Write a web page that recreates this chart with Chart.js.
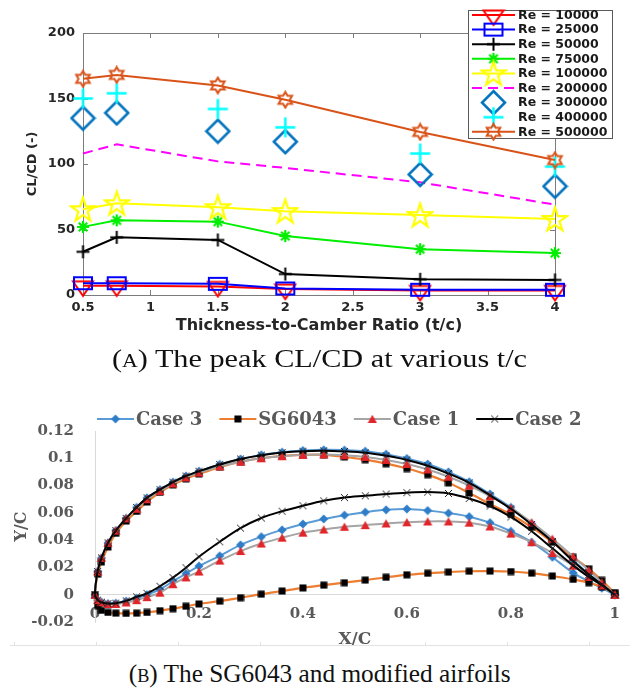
<!DOCTYPE html>
<html>
<head>
<meta charset="utf-8">
<script src="https://cdn.jsdelivr.net/npm/chart.js@4.4.1/dist/chart.umd.min.js"></script>
<style>
  html, body { margin: 0; padding: 0; background: #fff; width: 630px; height: 690px; overflow: hidden; }
  #page { position: relative; width: 630px; height: 690px; }
  #ratioChart { position: absolute; left: 0; top: 0; }
  #foilChart { position: absolute; left: 0; top: 395px; }
  .cap { position: absolute; left: 5px; width: 630px; text-align: center; white-space: nowrap;
         font-family: "Liberation Serif", "Times New Roman", serif; font-size: 25px; line-height: 30px; color: #111; }
  .cap .in { display: inline-block; transform-origin: center center; }
  .sc { font-variant: small-caps; }
</style>
</head>
<body>
<div id="page">
  <canvas id="ratioChart" width="630" height="345"></canvas>
  <div class="cap" style="top:344px"><span class="in" id="capA"><span class="sc">(a)</span> The peak CL/CD at various t/c</span></div>
  <canvas id="foilChart" width="630" height="260"></canvas>
  <div class="cap" style="top:659px"><span class="in" id="capB"><span class="sc">(b)</span> The SG6043 and modified airfoils</span></div>
</div>
<script>
// ---------- Peak CL/CD versus thickness-to-camber ratio ----------
const tcRatio   = [0.5, 0.75, 1.5, 2, 3, 4];
const re10000   = [7, 7, 6.5, 4.5, 3.5, 3.5];
const re25000   = [9, 9, 8.5, 5, 4, 4];
const re50000   = [33, 44, 42, 16, 12, 11.5];
const re75000   = [52, 57, 56, 45, 35, 32];
const re100000  = [65.5, 70, 67, 64, 61, 58];
const re200000  = [108, 115, 102, 97, 86, 69];
const re300000  = [135, 139, 125, 117, 92, 83];
const re400000  = [150, 154, 142, 128, 108, 98];
const re500000  = [165, 168, 160, 149, 124.5, 103];
const reNames   = ['Re = 10000', 'Re = 25000', 'Re = 50000', 'Re = 75000', 'Re = 100000',
                   'Re = 200000', 'Re = 300000', 'Re = 400000', 'Re = 500000'];
const tcTicks      = [0.5, 1, 1.5, 2, 2.5, 3, 3.5, 4];
const tcTickText   = ['0.5', '1', '1.5', '2', '2.5', '3', '3.5', '4'];
const ratioTicks    = [0, 50, 100, 150, 200];
const ratioTickText = ['0', '50', '100', '150', '200'];

// ---------- Airfoil sections (y/c at common chord stations) ----------
const chordX = [0, 0.005, 0.0125, 0.025, 0.04, 0.06, 0.08, 0.1, 0.125, 0.15, 0.175, 0.2, 0.24, 0.28,
                0.32, 0.36, 0.4, 0.44, 0.48, 0.52, 0.56, 0.6, 0.64, 0.68, 0.72, 0.76, 0.8, 0.84, 0.88,
                0.92, 0.95, 0.975, 1];
const sgUpper = [0, 0.015, 0.024, 0.035, 0.045, 0.054, 0.061, 0.068, 0.075, 0.0805, 0.085, 0.0885, 0.0935,
                 0.0975, 0.1, 0.1018, 0.1025, 0.1025, 0.101, 0.099, 0.096, 0.0925, 0.088, 0.082, 0.0745,
                 0.0665, 0.0588, 0.0495, 0.0385, 0.0273, 0.019, 0.0105, 0.001];
const sgLower = [0, -0.008, -0.0115, -0.013, -0.0135, -0.0137, -0.0135, -0.013, -0.0117, -0.0102, -0.0085,
                 -0.0068, -0.0047, -0.0022, 0.0004, 0.0027, 0.005, 0.007, 0.0088, 0.0107, 0.0128, 0.0146,
                 0.0157, 0.0166, 0.0172, 0.0173, 0.017, 0.0158, 0.0137, 0.0112, 0.0088, 0.0058, 0.001];
const case1Upper = [0, 0.017, 0.027, 0.038, 0.047, 0.056, 0.063, 0.07, 0.076, 0.0815, 0.086, 0.0895, 0.094,
                    0.0975, 0.1, 0.1015, 0.1025, 0.1028, 0.1022, 0.101, 0.0988, 0.0958, 0.0918, 0.0865, 0.08,
                    0.0722, 0.0635, 0.053, 0.041, 0.028, 0.018, 0.009, 0];
const case1Lower = [0, -0.004, -0.0055, -0.0068, -0.0068, -0.0057, -0.004, -0.0018, 0.0015, 0.0077, 0.0127,
                    0.017, 0.025, 0.032, 0.0375, 0.0418, 0.0455, 0.0478, 0.0498, 0.051, 0.0522, 0.0531,
                    0.0537, 0.0537, 0.0528, 0.05, 0.0448, 0.0385, 0.0305, 0.0213, 0.013, 0.0068, 0];
const case2Upper = [0, 0.017, 0.027, 0.038, 0.047, 0.056, 0.064, 0.071, 0.077, 0.0825, 0.087, 0.0905, 0.0955,
                    0.0995, 0.1023, 0.1042, 0.1052, 0.1055, 0.105, 0.104, 0.1018, 0.0988, 0.0945, 0.0888,
                    0.082, 0.0728, 0.063, 0.0515, 0.039, 0.0245, 0.0148, 0.0075, 0];
const case2Lower = [0, -0.004, -0.0055, -0.0065, -0.0062, -0.0045, -0.0015, 0.001, 0.0062, 0.0125, 0.0198,
                    0.0278, 0.0388, 0.0488, 0.0562, 0.0612, 0.0652, 0.0688, 0.0712, 0.0725, 0.0738, 0.0748,
                    0.0752, 0.0742, 0.0705, 0.065, 0.057, 0.0465, 0.034, 0.0215, 0.013, 0.007, 0];
const case3Upper = [0, 0.017, 0.027, 0.038, 0.047, 0.056, 0.064, 0.071, 0.077, 0.0825, 0.087, 0.0905, 0.0955,
                    0.0995, 0.1025, 0.1045, 0.1057, 0.1062, 0.106, 0.1052, 0.103, 0.0998, 0.0958, 0.09,
                    0.0828, 0.0738, 0.064, 0.052, 0.0395, 0.0252, 0.0152, 0.0078, 0];
const case3Lower = [0, -0.004, -0.0055, -0.0065, -0.0062, -0.0047, -0.0025, 0, 0.004, 0.0098, 0.0155, 0.021,
                    0.0285, 0.0365, 0.0425, 0.0475, 0.0518, 0.0555, 0.0583, 0.0605, 0.0622, 0.0628, 0.0617,
                    0.0598, 0.0572, 0.0528, 0.0465, 0.0385, 0.0275, 0.016, 0.0098, 0.0048, 0];
const foilNames  = ['Case 3', 'SG6043', 'Case 1', 'Case 2'];
const xcTicks    = [0, 0.2, 0.4, 0.6, 0.8, 1];
const xcTickText = ['0', '0.2', '0.4', '0.6', '0.8', '1'];
const ycTicks    = [-0.02, 0, 0.02, 0.04, 0.06, 0.08, 0.1, 0.12];
const ycTickText = ['-0.02', '0', '0.02', '0.04', '0.06', '0.08', '0.1', '0.12'];

// ---------- marker glyphs ----------
function glyph(w, h, paint) {
  const c = document.createElement('canvas');
  c.width = w; c.height = h;
  const g = c.getContext('2d');
  g.lineJoin = 'miter';
  paint(g, w, h);
  return c;
}
function pathOf(g, pts) {
  g.beginPath();
  pts.forEach(([px, py], i) => (i ? g.lineTo(px, py) : g.moveTo(px, py)));
  g.closePath();
}
function outline(pts, color, lw) {
  return g => { pathOf(g, pts); g.strokeStyle = color; g.lineWidth = lw; g.stroke(); };
}
function filled(pts, color) {
  return g => { pathOf(g, pts); g.fillStyle = color; g.fill(); };
}
function strokes(segs, color, lw) {
  return g => {
    g.strokeStyle = color; g.lineWidth = lw; g.beginPath();
    segs.forEach(([a, b, c, d]) => { g.moveTo(a, b); g.lineTo(c, d); });
    g.stroke();
  };
}
function starPts(cx, cy, n, R, r) {
  const pts = [];
  for (let k = 0; k < 2 * n; k++) {
    const a = k * Math.PI / n, rad = k % 2 ? r : R;
    pts.push([cx + rad * Math.sin(a), cy - rad * Math.cos(a)]);
  }
  return pts;
}

const mTriDown  = glyph(24, 24, outline([[2, 7.5], [22, 7.5], [12, 22]], '#ff0000', 2));
const mSquare   = glyph(22, 16, g => { g.strokeStyle = '#0000ff'; g.lineWidth = 2; g.strokeRect(2, 2, 18, 12); });
const mPlusK    = glyph(15, 15, strokes([[7.5, 1, 7.5, 14], [1, 7.5, 14, 7.5]], '#000000', 2));
const mAster    = glyph(14, 14, strokes([[7, 1, 7, 13], [1, 7, 13, 7], [2.8, 2.8, 11.2, 11.2], [11.2, 2.8, 2.8, 11.2]], '#00ee00', 2.2));
const mPenta    = glyph(28, 28, outline(starPts(14, 15, 5, 12.5, 4.8), '#ffff00', 2.2));
const mDiamond  = glyph(27, 27, outline([[13.5, 2], [25, 13.5], [13.5, 25], [2, 13.5]], '#0072bd', 2.5));
const mPlusC    = glyph(23, 23, strokes([[11.5, 1.5, 11.5, 21.5], [1.5, 11.5, 21.5, 11.5]], '#00ffff', 2.5));
const mHexa     = glyph(19, 19, outline(starPts(9.5, 9.5, 6, 7.8, 4.5), '#d95319', 2));

const fDiamond  = glyph(10, 10, filled([[5, 0.5], [9.5, 5], [5, 9.5], [0.5, 5]], '#2f7dc8'));
const fSquare   = glyph(8, 8, g => { g.fillStyle = '#000'; g.fillRect(0.5, 0.5, 7, 7); });
const fTriangle = glyph(10, 10, filled([[5, 0.8], [9.6, 9], [0.4, 9]], '#e0262a'));
const fCross    = glyph(9, 9, strokes([[1, 1, 8, 8], [8, 1, 1, 8]], '#222', 1));

// ---------- chart (a) ----------
const reSeries = [re10000, re25000, re50000, re75000, re100000, re200000, re300000, re400000, re500000];
const reLook = [
  { color: '#ff0000', line: true,  marker: mTriDown },
  { color: '#0000ff', line: true,  marker: mSquare },
  { color: '#000000', line: true,  marker: mPlusK },
  { color: '#00ee00', line: true,  marker: mAster },
  { color: '#ffff00', line: true,  marker: mPenta },
  { color: '#ff00ff', line: true,  marker: null, dash: [10, 6] },
  { color: '#0072bd', line: false, marker: mDiamond },
  { color: '#00ffff', line: false, marker: mPlusC },
  { color: '#d95319', line: true,  marker: mHexa }
];

const sansBold = size => ({ family: 'DejaVu Sans', weight: 'bold', size });
const serifBold = size => ({ family: 'DejaVu Serif', weight: 'bold', size });

const frameA = {
  id: 'frameA',
  beforeDatasetsDraw(chart) {
    const { ctx, chartArea: a, scales: { x, y } } = chart;
    ctx.save();
    ctx.strokeStyle = '#7c7c7c';
    ctx.lineWidth = 1;
    ctx.strokeRect(a.left + 0.5, a.top + 0.5, a.right - a.left, a.bottom - a.top);
    ctx.beginPath();
    tcTicks.forEach(v => {
      const px = Math.round(x.getPixelForValue(v)) + 0.5;
      ctx.moveTo(px, a.bottom); ctx.lineTo(px, a.bottom - 5);
      ctx.moveTo(px, a.top); ctx.lineTo(px, a.top + 5);
    });
    ratioTicks.forEach(v => {
      const py = Math.round(y.getPixelForValue(v)) + 0.5;
      ctx.moveTo(a.left, py); ctx.lineTo(a.left + 5, py);
      ctx.moveTo(a.right, py); ctx.lineTo(a.right - 5, py);
    });
    ctx.stroke();
    ctx.restore();
  },
  afterDraw(chart) {
    const ctx = chart.ctx;
    const box = { left: 468, top: 10, width: 144, height: 128 };
    ctx.save();
    ctx.fillStyle = '#fff';
    ctx.fillRect(box.left, box.top, box.width, box.height);
    ctx.strokeStyle = '#5a5a5a';
    ctx.lineWidth = 1;
    ctx.strokeRect(box.left + 0.5, box.top + 0.5, box.width, box.height);
    ctx.font = 'bold 12.5px "DejaVu Sans"';
    ctx.textBaseline = 'middle';
    chart.data.datasets.forEach((ds, i) => {
      const look = reLook[i];
      const cy = box.top + 5 + i * 14.6;
      const x0 = box.left + 4, x1 = box.left + 47, cx = (x0 + x1) / 2;
      if (look.line) {
        ctx.strokeStyle = look.color;
        ctx.lineWidth = 2;
        ctx.setLineDash(look.dash || []);
        ctx.beginPath(); ctx.moveTo(x0, cy); ctx.lineTo(x1, cy); ctx.stroke();
        ctx.setLineDash([]);
      }
      if (look.marker) {
        const m = look.marker;
        ctx.drawImage(m, cx - m.width / 2, cy - m.height / 2);
      }
      ctx.fillStyle = '#1a1a1a';
      ctx.fillText(ds.label, box.left + 50, cy + 0.5);
    });
    ctx.restore();
  }
};

new Chart(document.getElementById('ratioChart'), {
  type: 'scatter',
  data: {
    datasets: reSeries.map((vals, i) => ({
      label: reNames[i],
      data: tcRatio.map((t, k) => ({ x: t, y: vals[k] })),
      showLine: reLook[i].line,
      borderColor: reLook[i].color,
      backgroundColor: reLook[i].color,
      borderWidth: 2,
      borderDash: reLook[i].dash || [],
      pointStyle: reLook[i].marker || 'circle',
      pointRadius: reLook[i].marker ? 6 : 0,
      pointHoverRadius: reLook[i].marker ? 6 : 0,
      tension: 0,
      clip: false,
      order: reSeries.length - i
    }))
  },
  options: {
    responsive: false,
    animation: false,
    events: [],
    layout: { padding: { left: 0, top: 33, right: 75, bottom: 0 } },
    plugins: { legend: { display: false }, tooltip: { enabled: false } },
    scales: {
      x: {
        type: 'linear', min: 0.5, max: 4,
        afterBuildTicks: s => { s.ticks = tcTicks.map(v => ({ value: v })); },
        afterFit: s => { s.height = 50; },
        ticks: { callback: (v, i) => tcTickText[i], font: sansBold(13), color: '#262626',
                 padding: 5, autoSkip: false, maxRotation: 0 },
        grid: { display: false, drawTicks: false },
        border: { display: false },
        title: { display: true, text: 'Thickness-to-Camber Ratio (t/c)', font: sansBold(16),
                 color: '#262626', padding: { top: 0, bottom: 10 } }
      },
      y: {
        type: 'linear', min: 0, max: 200,
        afterBuildTicks: s => { s.ticks = ratioTicks.map(v => ({ value: v })); },
        afterFit: s => { s.width = 83; },
        ticks: { callback: (v, i) => ratioTickText[i], font: sansBold(13), color: '#262626',
                 padding: 8, autoSkip: false },
        grid: { display: false, drawTicks: false },
        border: { display: false },
        title: { display: true, text: 'CL/CD (-)', font: sansBold(13), color: '#262626',
                 padding: { top: 25, bottom: 0 } }
      }
    }
  },
  plugins: [frameA]
});

// ---------- chart (b) ----------
function section(upper, lower) {
  const pts = [];
  for (let i = chordX.length - 1; i >= 0; i--) pts.push({ x: chordX[i], y: upper[i] });
  for (let i = 1; i < chordX.length; i++) pts.push({ x: chordX[i], y: lower[i] });
  return pts;
}
const foilSeries = [
  section(case3Upper, case3Lower),
  section(sgUpper, sgLower),
  section(case1Upper, case1Lower),
  section(case2Upper, case2Lower)
];
const foilLook = [
  { line: '#5b9bd5', width: 2,   marker: fDiamond },
  { line: '#ed7d31', width: 2.2, marker: fSquare },
  { line: '#a5a5a5', width: 2,   marker: fTriangle },
  { line: '#000000', width: 2,   marker: fCross }
];

const frameB = {
  id: 'frameB',
  afterDraw(chart) {
    const ctx = chart.ctx;
    ctx.save();
    // thin rule under the plot
    ctx.strokeStyle = '#e3e3e3';
    ctx.lineWidth = 1;
    ctx.beginPath();
    ctx.moveTo(10, 250.5); ctx.lineTo(630, 250.5);
    for (let k = 0; k < 8; k++) {
      const tx = Math.round(14 + k * 82.1) + 0.5;
      ctx.moveTo(tx, 247); ctx.lineTo(tx, 251);
    }
    ctx.stroke();
    // legend row
    ctx.font = 'bold 18px "DejaVu Serif"';
    ctx.textBaseline = 'middle';
    let lx = 97;
    const ly = 24;
    chart.data.datasets.forEach((ds, i) => {
      const look = foilLook[i];
      ctx.strokeStyle = look.line;
      ctx.lineWidth = look.width;
      ctx.beginPath(); ctx.moveTo(lx, ly); ctx.lineTo(lx + 37, ly); ctx.stroke();
      const m = look.marker;
      ctx.drawImage(m, lx + 18.5 - m.width / 2, ly - m.height / 2);
      ctx.fillStyle = '#595959';
      ctx.fillText(ds.label, lx + 39, ly + 1);
      lx += 39 + ctx.measureText(ds.label).width + 17;
    });
    ctx.restore();
  }
};

new Chart(document.getElementById('foilChart'), {
  type: 'scatter',
  data: {
    datasets: foilSeries.map((pts, i) => ({
      label: foilNames[i],
      data: pts,
      showLine: true,
      borderColor: foilLook[i].line,
      backgroundColor: foilLook[i].line,
      borderWidth: foilLook[i].width,
      pointStyle: foilLook[i].marker,
      pointRadius: 4,
      pointHoverRadius: 4,
      tension: 0.35,
      clip: false,
      order: foilSeries.length - 1 - i
    }))
  },
  options: {
    responsive: false,
    animation: false,
    events: [],
    layout: { padding: { left: 0, top: 36, right: 11, bottom: 33 } },
    plugins: { legend: { display: false }, tooltip: { enabled: false } },
    scales: {
      x: {
        type: 'linear', min: 0, max: 1,
        position: { y: 0 },
        afterBuildTicks: s => { s.ticks = xcTicks.map(v => ({ value: v })); },
        ticks: { callback: (v, i) => xcTickText[i], font: serifBold(15), color: '#595959',
                 padding: 10, autoSkip: false, maxRotation: 0 },
        grid: { display: false, drawTicks: false },
        border: { display: true, color: '#d9d9d9', width: 1 },
        title: { display: true, text: 'X/C', font: serifBold(17), color: '#595959',
                 padding: { top: -3, bottom: 0 } }
      },
      y: {
        type: 'linear', min: -0.02, max: 0.12,
        afterBuildTicks: s => { s.ticks = ycTicks.map(v => ({ value: v })); },
        afterFit: s => { s.width = 95; },
        ticks: { callback: (v, i) => ycTickText[i], font: serifBold(15), color: '#595959',
                 padding: 21, autoSkip: false },
        grid: { display: false, drawTicks: false },
        border: { display: true, color: '#d9d9d9', width: 1 },
        title: { display: true, text: 'Y/C', font: serifBold(16), color: '#595959',
                 padding: { top: 12, bottom: 0 } }
      }
    }
  },
  plugins: [frameB]
});

// ---------- captions: widen the serif text to its set measure ----------
function fitCaption(id, target) {
  const el = document.getElementById(id);
  const w = el.getBoundingClientRect().width;
  if (w > 0) el.style.transform = 'scaleX(' + (target / w).toFixed(4) + ')';
}
fitCaption('capA', 415);
fitCaption('capB', 382);
</script>
</body>
</html>
